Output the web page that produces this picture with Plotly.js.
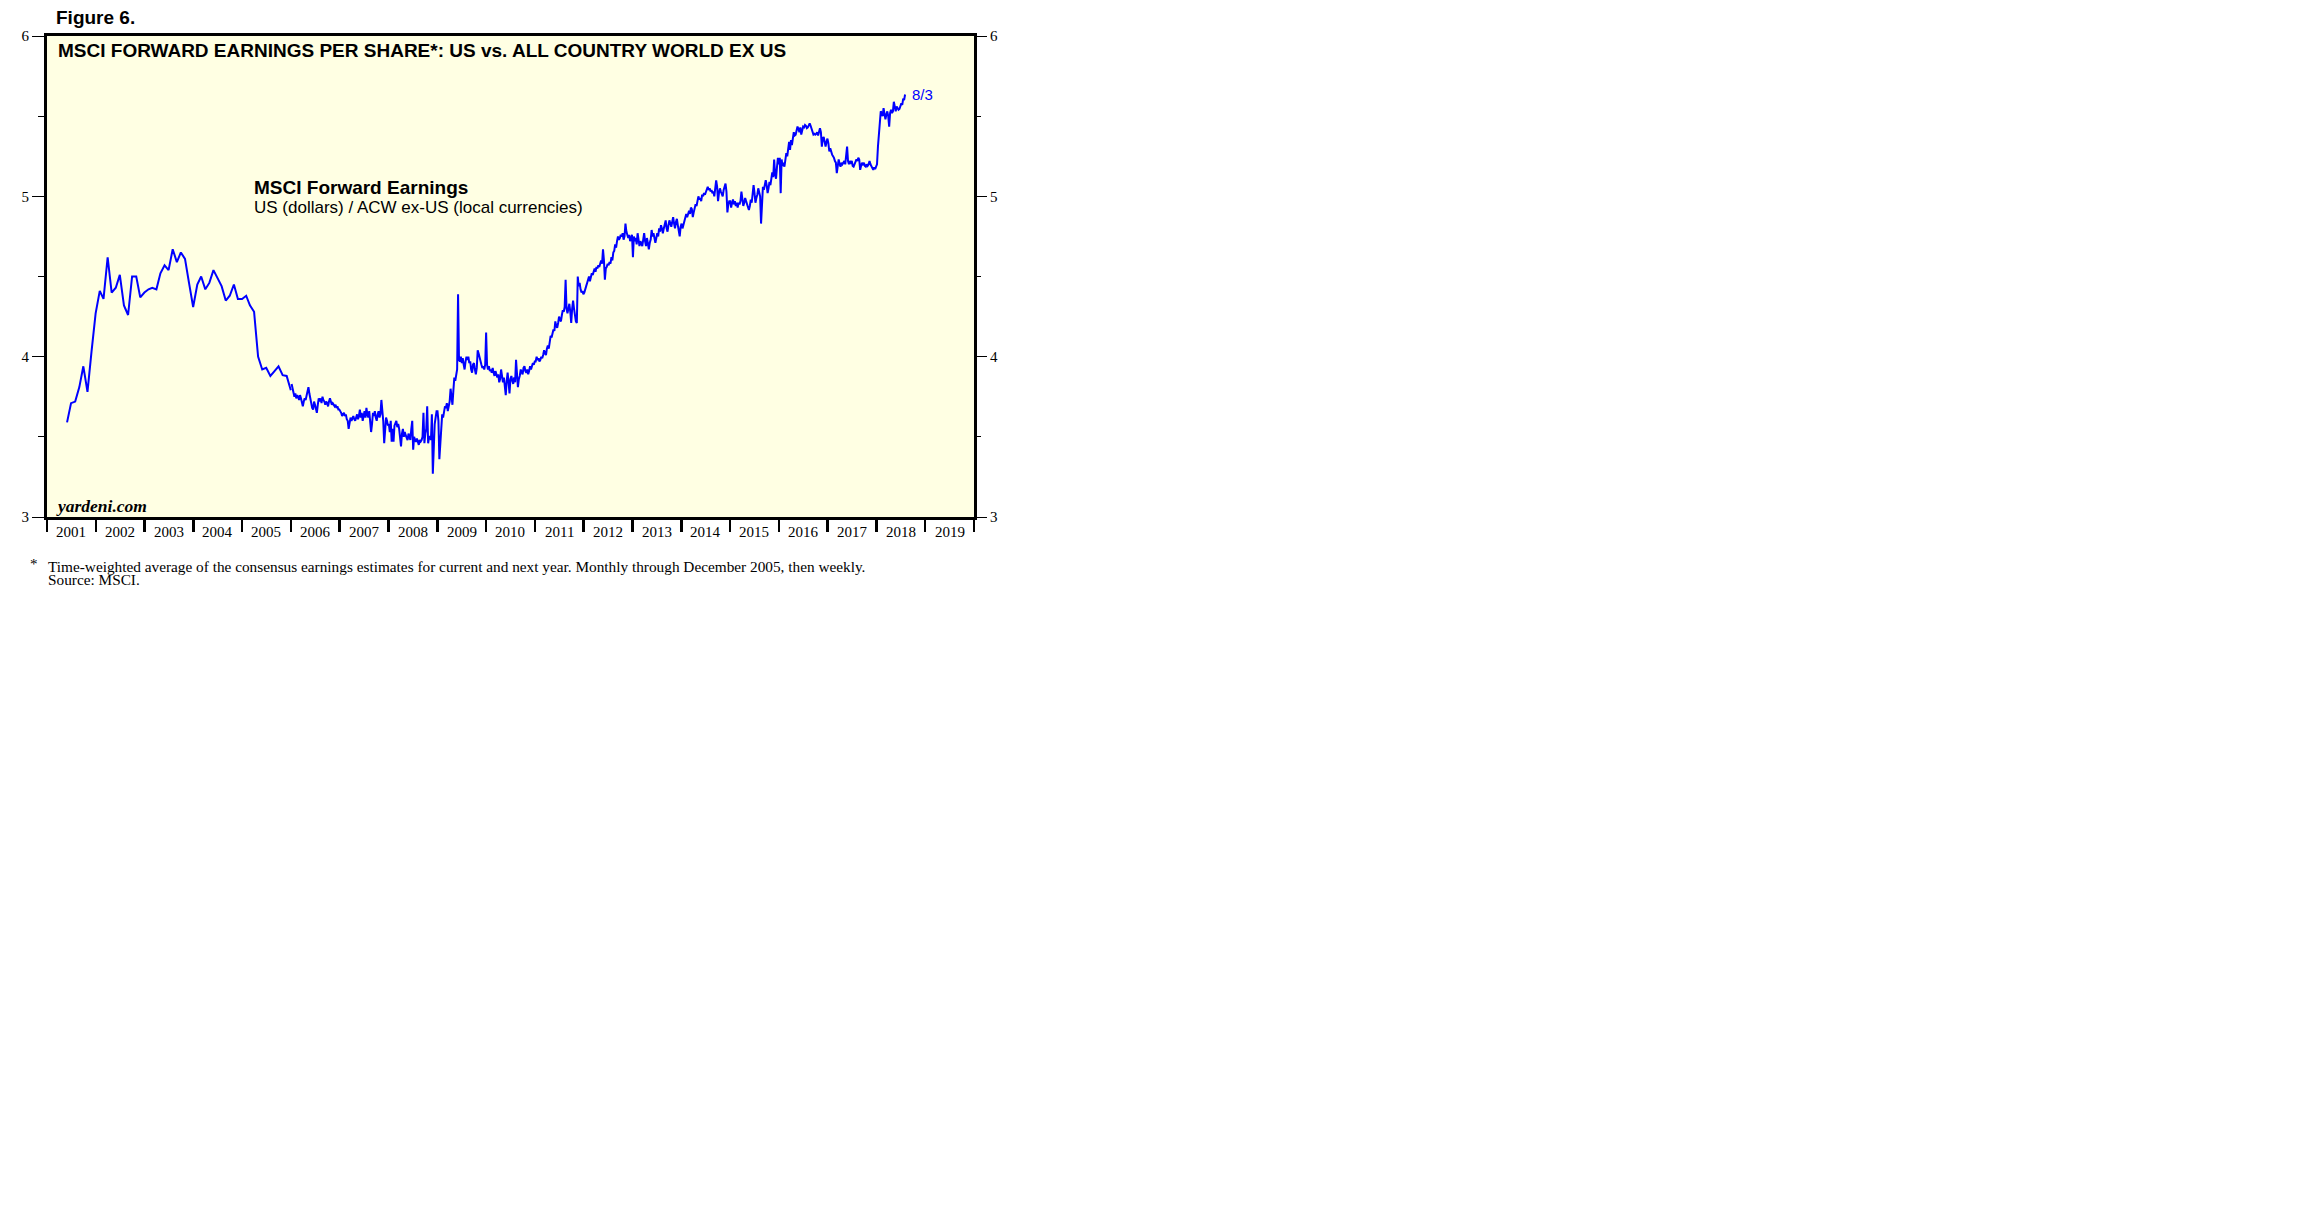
<!DOCTYPE html>
<html><head><meta charset="utf-8">
<script src="https://cdn.plot.ly/plotly-3.0.1.min.js"></script>
<style>html,body{margin:0;padding:0;background:#fff;}#chart{width:2304px;height:1228px;}</style>
</head><body><div id="chart"></div>
<script>
// ---- DATA ----
// Monthly (month-end) observations, May 2001 through December 2005
const monthlyStartYear = 2001;
const monthlyStartMonth = 5;
const monthlyValues = [
  3.59,3.71,3.72,3.81,3.94,3.78,4.03,4.27,
  4.41,4.36,4.62,4.40,4.43,4.51,4.32,4.26,4.50,4.50,4.37,4.40,
  4.42,4.43,4.42,4.52,4.57,4.54,4.67,4.59,4.65,4.61,4.46,4.31,
  4.45,4.50,4.42,4.46,4.54,4.49,4.44,4.35,4.38,4.45,4.36,4.36,
  4.38,4.32,4.28,4.00,3.92,3.93,3.88,3.91,3.94,3.885,3.88,3.79
];
// Weekly (Friday) observations, by year
const weekly2006 = [3.83,3.80,3.76,3.75, 3.77,3.74,3.76,3.75, 3.73,3.76,3.74,3.71, 3.69,3.72,3.74,3.73, 3.76,3.78,3.81,3.77, 3.73,3.70,3.68,3.67, 3.72,3.70,3.68,3.65, 3.70,3.74,3.72,3.74, 3.71,3.75,3.73,3.72, 3.70,3.72,3.71,3.69, 3.72,3.74,3.72,3.70, 3.71,3.70,3.69,3.70, 3.68,3.69,3.67,3.67];
const weekly2007 = [3.66,3.65,3.63,3.64, 3.65,3.63,3.64,3.61, 3.60,3.55,3.59,3.62, 3.60,3.62,3.63,3.61, 3.60,3.62,3.64,3.61, 3.63,3.67,3.62,3.65, 3.60,3.63,3.66,3.62, 3.68,3.64,3.62,3.66, 3.60,3.53,3.58,3.65, 3.63,3.66,3.62,3.60, 3.64,3.66,3.62,3.64, 3.73,3.66,3.60,3.46, 3.55,3.62,3.60,3.57];
const weekly2008 = [3.58,3.53,3.60,3.47, 3.55,3.47,3.57,3.59, 3.60,3.56,3.58,3.55, 3.50,3.44,3.52,3.55, 3.50,3.53,3.51,3.49, 3.48,3.52,3.50,3.48, 3.55,3.60,3.42,3.50, 3.48,3.47,3.49,3.46, 3.45,3.48,3.47,3.48, 3.50,3.65,3.46,3.52, 3.55,3.69,3.46,3.50, 3.50,3.48,3.64,3.27, 3.45,3.58,3.62,3.66];
const weekly2009 = [3.66,3.60,3.36,3.45, 3.56,3.64,3.62,3.66, 3.69,3.68,3.71,3.66, 3.70,3.72,3.80,3.74, 3.70,3.79,3.87,3.85, 3.89,3.92,4.39,3.98, 3.97,4.00,3.96,3.99, 3.95,3.92,3.97,4.00, 3.98,4.00,3.96,3.97, 3.92,3.90,3.95,3.96, 3.92,3.89,3.93,4.04, 4.02,3.99,3.98,3.95, 3.93,3.94,3.92,3.95];
const weekly2010 = [4.15,3.95,3.92,3.94, 3.91,3.92,3.90,3.93, 3.90,3.88,3.91,3.89, 3.87,3.89,3.84,3.86, 3.92,3.88,3.84,3.87, 3.80,3.76,3.85,3.90, 3.84,3.77,3.86,3.88, 3.85,3.83,3.87,3.84, 3.98,3.90,3.81,3.86, 3.88,3.92,3.90,3.89, 3.93,3.94,3.91,3.90, 3.92,3.89,3.91,3.94, 3.92,3.94,3.96,3.95, 3.97];
const weekly2011 = [3.97,4.00,3.98,3.99, 3.97,3.98,4.00,3.99, 4.01,4.04,4.02,4.01, 4.05,4.07,4.05,4.10, 4.13,4.12,4.15,4.17, 4.16,4.22,4.19,4.18, 4.21,4.25,4.23,4.22, 4.26,4.29,4.28,4.31, 4.48,4.30,4.27,4.30, 4.33,4.28,4.21,4.30, 4.35,4.30,4.25,4.22, 4.21,4.50,4.44,4.46, 4.42,4.40,4.41,4.39];
const weekly2012 = [4.40,4.43,4.44,4.46, 4.48,4.50,4.47,4.50, 4.52,4.51,4.54,4.55, 4.53,4.56,4.55,4.57, 4.56,4.59,4.60,4.58, 4.67,4.60,4.48,4.55, 4.56,4.58,4.57,4.59, 4.58,4.62,4.60,4.65, 4.66,4.70,4.68,4.72, 4.75,4.73,4.74,4.76, 4.75,4.77,4.73,4.75, 4.83,4.78,4.76,4.74, 4.76,4.72,4.74,4.76];
const weekly2013 = [4.62,4.75,4.72,4.74, 4.70,4.77,4.73,4.69, 4.72,4.70,4.69,4.73, 4.77,4.72,4.69,4.74, 4.70,4.67,4.71,4.73, 4.79,4.75,4.77,4.74, 4.71,4.74,4.77,4.75, 4.80,4.78,4.82,4.80, 4.77,4.80,4.83,4.85, 4.80,4.78,4.82,4.85, 4.83,4.81,4.84,4.87, 4.83,4.80,4.84,4.86, 4.82,4.79,4.75,4.81];
const weekly2014 = [4.83,4.80,4.82,4.84, 4.86,4.89,4.87,4.90, 4.91,4.89,4.93,4.92, 4.87,4.90,4.93,4.95, 4.94,4.97,5.00,4.98, 4.99,4.97,5.01,5.00, 5.02,5.01,5.03,5.04, 5.06,5.04,5.05,5.03, 5.04,5.02,5.03,5.00, 5.04,5.10,5.06,4.97, 5.02,5.05,5.03,5.01, 5.00,5.04,5.06,5.08, 5.03,4.90,4.95,4.97];
const weekly2015 = [4.97,4.93,4.96,4.98, 4.95,4.97,4.94,4.96, 4.93,4.96,4.95,4.97, 5.03,4.98,4.94,4.96, 4.99,4.97,4.95,4.93, 4.915,4.94,4.98,4.96, 5.00,5.07,5.02,4.96, 4.99,5.01,5.05,5.03, 5.00,4.83,5.02,5.06, 5.04,5.08,5.10,5.07, 5.02,5.05,5.09,5.07, 5.11,5.15,5.12,5.23, 5.14,5.11,5.18,5.24];
const weekly2016 = [5.20,5.24,5.02,5.23, 5.19,5.21,5.185,5.22, 5.27,5.25,5.30,5.34, 5.29,5.35,5.32,5.37, 5.40,5.38,5.385,5.41, 5.435,5.42,5.40,5.43, 5.385,5.41,5.435,5.43, 5.445,5.44,5.425,5.43, 5.45,5.455,5.44,5.415, 5.40,5.385,5.39,5.385, 5.39,5.40,5.38,5.41, 5.425,5.40,5.31,5.36, 5.37,5.34,5.31,5.34, 5.36];
const weekly2017 = [5.33,5.28,5.30,5.27, 5.26,5.25,5.24,5.22, 5.21,5.145,5.19,5.23, 5.20,5.185,5.21,5.20, 5.21,5.22,5.20,5.24, 5.31,5.22,5.20,5.22, 5.21,5.22,5.19,5.185, 5.20,5.21,5.23,5.22, 5.24,5.23,5.165,5.19, 5.21,5.20,5.21,5.19, 5.185,5.20,5.19,5.20, 5.22,5.20,5.185,5.17, 5.165,5.18,5.17,5.185];
const weekly2018 = [5.20,5.31,5.39,5.51, 5.53,5.52,5.50,5.55, 5.52,5.48,5.51,5.53, 5.50,5.435,5.52,5.54, 5.52,5.53,5.59,5.55, 5.53,5.56,5.55,5.54, 5.545,5.56,5.58,5.57, 5.61,5.60,5.635];
const weeklyYears = [2006,2007,2008,2009,2010,2011,2012,2013,2014,2015,2016,2017,2018];
const weeklyByYear = [weekly2006,weekly2007,weekly2008,weekly2009,weekly2010,weekly2011,weekly2012,weekly2013,weekly2014,weekly2015,weekly2016,weekly2017,weekly2018];
const lastDateLabel = "8/3";
const yearLabels = ["2001","2002","2003","2004","2005","2006","2007","2008","2009","2010","2011","2012","2013","2014","2015","2016","2017","2018","2019"];
const yTickValues = [3,4,5,6];
const yTickLabels = ["3","4","5","6"];
const yMinorValues = [3.5,4.5,5.5];
const xStart = "2001-01-01", xEnd = "2020-01-01";

// ---- dates ----
function iso(d){return d.toISOString().slice(0,10);}
const monthlyDates = monthlyValues.map((v,i)=>{
  const m = monthlyStartMonth - 1 + i;
  return iso(new Date(Date.UTC(monthlyStartYear, m + 1, 0)));
});
const weeklyDates = [], weeklyValues = [];
weeklyYears.forEach((yr, j)=>{
  const d = new Date(Date.UTC(yr,0,1));
  while (d.getUTCDay() !== 5) d.setUTCDate(d.getUTCDate()+1);
  weeklyByYear[j].forEach((v,k)=>{
    weeklyDates.push(iso(new Date(d.getTime() + k*7*86400000)));
    weeklyValues.push(v);
  });
});

// ---- geometry helpers (plot area in px) ----
const L = 47, R = 974, T = 36, B = 517;
const px = x => (x - L) / (R - L);
const py = y => (B - y) / (B - T);

const serif = "Liberation Serif, Times New Roman, serif";
const sans = "Liberation Sans, Arial, sans-serif";
const blue = "#0000FF";

const traces = [
  {x: monthlyDates, y: monthlyValues, type: "scatter", mode: "lines", line: {color: blue, width: 2}, hoverinfo: "skip", showlegend: false},
  {x: weeklyDates, y: weeklyValues, type: "scatter", mode: "lines", line: {color: blue, width: 2}, hoverinfo: "skip", showlegend: false},
  {x: [xStart], y: [3], yaxis: "y2", type: "scatter", mode: "markers", marker: {opacity: 0}, hoverinfo: "skip", showlegend: false}
];

const yCommon = {
  range: [3, 6], tickmode: "array", tickvals: yTickValues, ticktext: yTickLabels,
  ticks: "outside", ticklen: 12, tickwidth: 1, tickcolor: "#000",
  minor: {tickmode: "array", tickvals: yMinorValues, ticks: "outside", ticklen: 6, tickwidth: 1, tickcolor: "#000", showgrid: false},
  showgrid: false, zeroline: false, fixedrange: true,
  tickfont: {family: serif, size: 15, color: "#000"}
};

const ann = (text, x, y, font, extra) => Object.assign({
  text, xref: "paper", yref: "paper", x: px(x), y: py(y), xanchor: "left", yanchor: "middle",
  showarrow: false, font, borderpad: 0
}, extra || {});

const annotations = [
  ann("Figure 6.", 55, 17.4, {family: sans, size: 19, color: "#000", weight: "bold"}),
  ann("<b>MSCI FORWARD EARNINGS PER SHARE*: US vs. ALL COUNTRY WORLD EX US</b>", 56.5, 50.6, {family: sans, size: 19, color: "#000"}),
  ann("<b>MSCI Forward Earnings</b>", 252.5, 187.4, {family: sans, size: 19, color: "#000"}),
  ann("US (dollars) / ACW ex-US (local currencies)", 252.5, 207.4, {family: sans, size: 17, color: "#000"}),
  ann("<b><i>yardeni.com</i></b>", 54.5, 505.8, {family: serif, size: 17.5, color: "#000"}),
  ann("*", 28.5, 564, {family: serif, size: 15, color: "#000"}),
  ann("Time-weighted average of the consensus earnings estimates for current and next year. Monthly through December 2005, then weekly.", 46.5, 566.5, {family: serif, size: 15.3, color: "#000"}),
  ann("Source: MSCI.", 46.5, 579.8, {family: serif, size: 15.3, color: "#000"}),
  {text: lastDateLabel, x: weeklyDates[weeklyDates.length-1], y: weeklyValues[weeklyValues.length-1],
   xref: "x", yref: "y", xanchor: "left", yanchor: "middle", xshift: 5, showarrow: false,
   font: {family: sans, size: 15, color: blue}}
];
// year labels centred in each year period, below the axis
yearLabels.forEach(lbl => {
  annotations.push({text: lbl, x: lbl + "-07-02", xref: "x", y: py(531.8), yref: "paper",
    xanchor: "center", yanchor: "middle", showarrow: false, borderpad: 0,
    font: {family: serif, size: 15, color: "#000"}});
});

const layout = {
  width: 2304, height: 1228,
  margin: {l: L, r: 2304 - R, t: T, b: 1228 - B, pad: 0},
  paper_bgcolor: "#FFFFFF", plot_bgcolor: "#FFFFE3",
  showlegend: false,
  xaxis: {
    type: "date", range: [xStart, xEnd], tickmode: "linear", tick0: xStart, dtick: "M12",
    showticklabels: false, ticks: "outside", ticklen: 12, tickwidth: 2.5, tickcolor: "#000",
    showline: true, linewidth: 3, linecolor: "#000", mirror: true, showgrid: false, zeroline: false,
    fixedrange: true
  },
  yaxis: Object.assign({}, yCommon, {side: "left", showline: true, linewidth: 3, linecolor: "#000", mirror: true}),
  yaxis2: Object.assign({}, yCommon, {side: "right", overlaying: "y", showline: false}),
  annotations
};

Plotly.newPlot("chart", traces, layout, {staticPlot: true, displayModeBar: false});
</script>
</body></html>
